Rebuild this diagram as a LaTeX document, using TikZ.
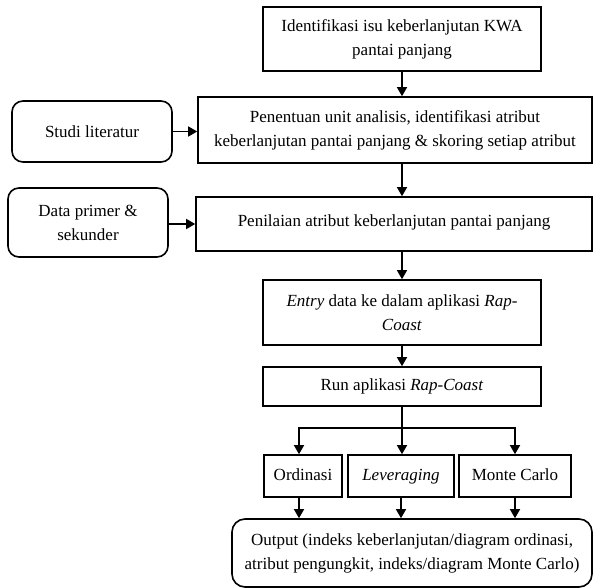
\documentclass[tikz,border=0pt]{standalone}
\usepackage{fontspec}
\setmainfont{Liberation Serif}
\usetikzlibrary{arrows.meta}
\begin{document}
\begin{tikzpicture}[x=1pt,y=-1pt,
  every node/.style={font=\fontsize{17}{24}\selectfont, align=center, inner sep=0pt},
  box/.style={draw, line width=1.6pt, rectangle},
  sbox/.style={box, minimum height=42pt, text height=12pt, text depth=4pt},
  rbox/.style={draw, line width=1.6pt, rectangle, rounded corners=11pt},
  arr/.style={line width=1.4pt, -{Triangle[length=9pt,width=10pt]}},
  ln/.style={line width=1.4pt}]
\useasboundingbox (0,0) rectangle (594,588);
\node[box, minimum width=278pt, minimum height=64pt] (b1) at (402,39) {Identifikasi isu keberlanjutan KWA\\pantai panjang};
\node[box, minimum width=394pt, minimum height=66pt] (b2) at (395,130) {Penentuan unit analisis, identifikasi atribut\\keberlanjutan pantai panjang \& skoring setiap atribut};
\node[rbox, minimum width=160pt, minimum height=61pt] (studi) at (92,131.5) {Studi literatur};
\node[rbox, minimum width=160pt, minimum height=69pt] (data) at (88,222.5) {Data primer \&\\sekunder};
\node[box, minimum width=396pt, minimum height=54pt] (b3) at (394,224) {\raisebox{7pt}{Penilaian atribut keberlanjutan pantai panjang}};
\node[box, minimum width=278pt, minimum height=65pt] (b4) at (402,312.5) {\textit{Entry} data ke dalam aplikasi \textit{Rap-}\\\textit{Coast}};
\node[box, minimum width=278pt, minimum height=39pt] (b5) at (402,386.5) {Run aplikasi \textit{Rap-Coast}};
\node[sbox, minimum width=78pt] (ord) at (303,476) {Ordinasi};
\node[sbox, minimum width=106pt] (lev) at (401,476) {\textit{Leveraging}};
\node[sbox, minimum width=112pt] (mc) at (515,476) {Monte Carlo};
\node[rbox, rounded corners=13pt, minimum width=360pt, minimum height=68pt] (out) at (412,553) {Output (indeks keberlanjutan/diagram ordinasi,\\atribut pengungkit, indeks/diagram Monte Carlo)};
\coordinate (br) at (402,428);
\draw[arr] (b1.south) -- (b1.south |- b2.north);
\draw[arr] (studi.east) -- (studi.east -| b2.west);
\draw[arr] (b2.south -| b4.north) -- (b3.north -| b4.north);
\draw[arr] (data.east |- b3.west) -- (b3.west);
\draw[arr] (b3.south -| b4.north) -- (b4.north);
\draw[arr] (b4.south) -- (b5.north);
\draw[ln] (b5.south) -- (br);
\draw[arr] (br) -| ([xshift=-4pt]ord.north);
\draw[arr] (br) -| (mc.north);
\draw[arr] (br) -- (br |- lev.north);
\draw[arr] ([xshift=-4pt]ord.south) -- ([xshift=-4pt]ord.south |- out.north);
\draw[arr] (lev.south) -- (lev.south |- out.north);
\draw[arr] (mc.south) -- (mc.south |- out.north);
\end{tikzpicture}
\end{document}
